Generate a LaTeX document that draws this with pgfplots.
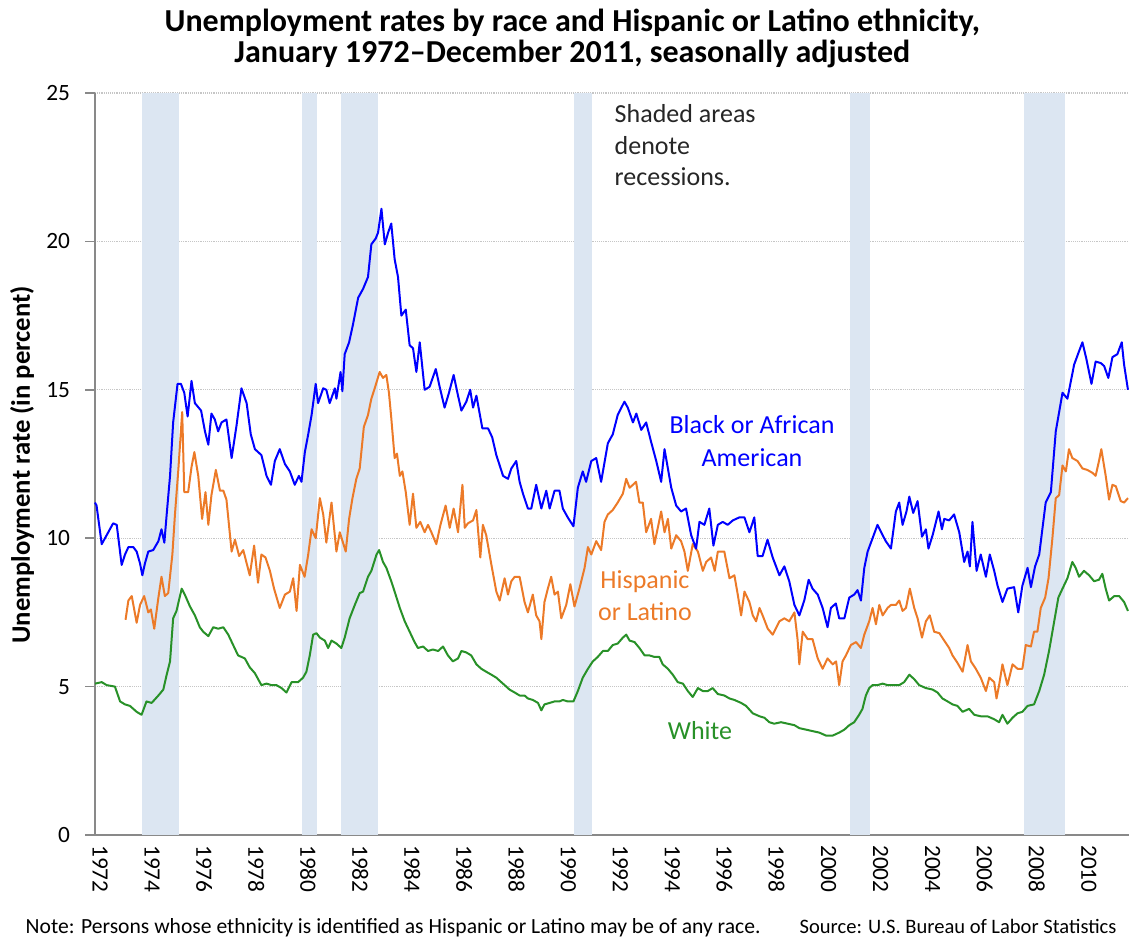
\documentclass[border=0pt]{standalone}
\usepackage{fontspec}
\setmainfont{Carlito}
\usepackage{pgfplots}
\pgfplotsset{compat=1.18}
\definecolor{cblue}{RGB}{0,0,255}
\definecolor{corange}{RGB}{236,122,40}
\definecolor{cgreen}{RGB}{40,145,40}
\definecolor{cshade}{RGB}{220,230,242}
\definecolor{caxis}{RGB}{137,137,137}
\begin{document}
\begin{tikzpicture}
\begin{axis}[
 scale only axis, width=775.5pt, height=556.5pt,
 xmin=1972, xmax=2011.96, ymin=0, ymax=25,
 axis lines*=left, axis line style={caxis, line width=1.1pt, -},
 ytick={0,5,10,15,20,25},
 ymajorgrids, grid style={densely dotted, gray!45, line width=0.8pt},
 tick align=outside, major tick length=7.5pt,
 ytick style={caxis, line width=1.1pt},
 xtick={1972.405,1974.416,1976.427,1978.437,1980.448,1982.459,1984.470,1986.481,1988.491,1990.502,1992.513,1994.524,1996.535,1998.545,2000.556,2002.567,2004.578,2006.589,2008.599,2010.610},
 xticklabels={1972,1974,1976,1978,1980,1982,1984,1986,1988,1990,1992,1994,1996,1998,2000,2002,2004,2006,2008,2010},
 xtick style={draw=none},
 /pgf/number format/assume math mode=true,
 tick label style={font=\fontsize{17.5}{20}\selectfont},
 xticklabel style={rotate=-90, anchor=west, inner sep=0pt, yshift=-4pt},
 yticklabel style={anchor=east, inner sep=0pt, xshift=-11pt},
 clip=false,
]
% recessions
\addplot [fill=cshade, draw=none] coordinates {(1973.83,25) (1975.25,25)} \closedcycle;
\addplot [fill=cshade, draw=none] coordinates {(1980.0,25) (1980.58,25)} \closedcycle;
\addplot [fill=cshade, draw=none] coordinates {(1981.5,25) (1982.92,25)} \closedcycle;
\addplot [fill=cshade, draw=none] coordinates {(1990.5,25) (1991.2,25)} \closedcycle;
\addplot [fill=cshade, draw=none] coordinates {(2001.17,25) (2001.95,25)} \closedcycle;
\addplot [fill=cshade, draw=none] coordinates {(2007.92,25) (2009.5,25)} \closedcycle;
% White
\addplot [cgreen, line width=1.5pt, line join=round] coordinates {
(1972.00,5.1)(1972.26,5.15)(1972.45,5.05)(1972.77,5.0)(1972.97,4.5)(1973.16,4.4)(1973.35,4.35)(1973.61,4.15)(1973.80,4.05)(1973.99,4.5)(1974.19,4.45)(1974.45,4.7)(1974.64,4.9)(1974.77,5.4)(1974.90,5.85)(1975.02,7.3)(1975.15,7.55)(1975.35,8.3)(1975.47,8.1)(1975.67,7.7)(1975.86,7.4)(1976.05,7.0)(1976.18,6.85)(1976.38,6.7)(1976.57,7.0)(1976.76,6.95)(1976.96,7.0)(1977.15,6.75)(1977.34,6.4)(1977.53,6.05)(1977.79,5.95)(1977.98,5.65)(1978.18,5.45)(1978.43,5.05)(1978.63,5.1)(1978.82,5.05)(1979.01,5.05)(1979.21,4.95)(1979.40,4.8)(1979.60,5.15)(1979.85,5.15)(1980.04,5.3)(1980.17,5.5)(1980.30,6.05)(1980.43,6.75)(1980.56,6.8)(1980.69,6.65)(1980.88,6.55)(1981.01,6.3)(1981.14,6.55)(1981.33,6.45)(1981.52,6.3)(1981.65,6.65)(1981.84,7.3)(1982.04,7.75)(1982.23,8.15)(1982.36,8.2)(1982.55,8.7)(1982.68,8.9)(1982.88,9.45)(1982.98,9.6)(1983.13,9.2)(1983.26,9.0)(1983.45,8.55)(1983.58,8.2)(1983.78,7.65)(1983.97,7.2)(1984.16,6.85)(1984.35,6.5)(1984.48,6.3)(1984.68,6.35)(1984.87,6.2)(1985.06,6.25)(1985.26,6.2)(1985.45,6.35)(1985.64,6.05)(1985.83,5.85)(1986.03,5.95)(1986.16,6.2)(1986.35,6.15)(1986.54,6.05)(1986.74,5.75)(1986.93,5.6)(1987.12,5.5)(1987.32,5.4)(1987.51,5.3)(1987.70,5.15)(1987.83,5.05)(1988.02,4.9)(1988.22,4.8)(1988.41,4.7)(1988.60,4.7)(1988.73,4.6)(1988.92,4.55)(1989.12,4.45)(1989.25,4.2)(1989.37,4.4)(1989.57,4.45)(1989.76,4.5)(1989.95,4.5)(1990.08,4.55)(1990.27,4.5)(1990.49,4.5)(1990.66,4.85)(1990.85,5.3)(1991.05,5.6)(1991.24,5.85)(1991.43,6.0)(1991.63,6.2)(1991.82,6.2)(1992.01,6.4)(1992.20,6.45)(1992.40,6.65)(1992.53,6.75)(1992.66,6.55)(1992.85,6.5)(1993.04,6.3)(1993.24,6.05)(1993.43,6.05)(1993.62,6.0)(1993.81,6.0)(1993.94,5.75)(1994.14,5.6)(1994.33,5.4)(1994.52,5.15)(1994.72,5.1)(1994.91,4.85)(1995.10,4.65)(1995.30,4.95)(1995.49,4.85)(1995.68,4.85)(1995.87,4.95)(1996.07,4.75)(1996.32,4.7)(1996.52,4.6)(1996.71,4.55)(1996.97,4.45)(1997.16,4.35)(1997.42,4.1)(1997.68,4.0)(1997.87,3.95)(1998.06,3.8)(1998.25,3.75)(1998.51,3.8)(1998.77,3.75)(1999.03,3.7)(1999.22,3.6)(1999.48,3.55)(1999.73,3.5)(1999.99,3.45)(2000.25,3.35)(2000.51,3.35)(2000.76,3.45)(2000.96,3.55)(2001.15,3.7)(2001.34,3.8)(2001.53,4.05)(2001.66,4.25)(2001.79,4.7)(2001.92,4.95)(2002.05,5.05)(2002.24,5.05)(2002.44,5.1)(2002.63,5.05)(2002.82,5.05)(2003.08,5.05)(2003.27,5.15)(2003.47,5.4)(2003.66,5.25)(2003.85,5.05)(2004.11,4.95)(2004.37,4.9)(2004.56,4.8)(2004.75,4.6)(2004.95,4.5)(2005.14,4.4)(2005.33,4.35)(2005.53,4.15)(2005.78,4.25)(2005.98,4.05)(2006.23,4.0)(2006.49,4.0)(2006.75,3.9)(2006.94,3.8)(2007.07,4.05)(2007.26,3.75)(2007.46,3.95)(2007.65,4.1)(2007.84,4.15)(2008.04,4.35)(2008.29,4.4)(2008.49,4.85)(2008.68,5.4)(2008.87,6.2)(2009.07,7.2)(2009.23,8.0)(2009.39,8.3)(2009.58,8.65)(2009.77,9.2)(2009.90,9.0)(2010.03,8.7)(2010.22,8.9)(2010.42,8.75)(2010.61,8.55)(2010.80,8.6)(2010.93,8.8)(2011.06,8.3)(2011.19,7.9)(2011.39,8.05)(2011.58,8.05)(2011.77,7.85)(2011.92,7.55)
};
% Hispanic
\addplot [corange, line width=1.5pt, line join=round] coordinates {
(1973.18,7.25)(1973.29,7.9)(1973.42,8.05)(1973.61,7.15)(1973.74,7.75)(1973.90,8.05)(1974.06,7.5)(1974.16,7.6)(1974.29,6.95)(1974.45,8.0)(1974.57,8.7)(1974.70,8.05)(1974.83,8.15)(1974.99,9.45)(1975.09,10.8)(1975.22,12.3)(1975.37,14.25)(1975.45,11.55)(1975.60,11.55)(1975.73,12.4)(1975.84,12.9)(1975.99,12.1)(1976.14,10.65)(1976.27,11.55)(1976.38,10.45)(1976.50,11.45)(1976.67,12.3)(1976.83,11.6)(1976.96,11.6)(1977.08,11.3)(1977.28,9.55)(1977.41,9.95)(1977.57,9.4)(1977.73,9.6)(1977.98,8.75)(1978.15,9.75)(1978.30,8.5)(1978.43,9.45)(1978.59,9.35)(1978.76,8.9)(1978.92,8.3)(1979.14,7.65)(1979.34,8.1)(1979.53,8.2)(1979.66,8.65)(1979.79,7.55)(1979.92,9.1)(1980.10,8.7)(1980.24,9.45)(1980.37,10.3)(1980.53,10.0)(1980.69,11.35)(1980.82,10.8)(1980.94,9.85)(1981.14,11.2)(1981.33,9.55)(1981.46,10.2)(1981.69,9.55)(1981.82,10.65)(1981.95,11.35)(1982.10,12.0)(1982.23,12.35)(1982.39,13.75)(1982.55,14.15)(1982.68,14.7)(1982.81,15.05)(1983.00,15.6)(1983.13,15.4)(1983.26,15.5)(1983.36,14.9)(1983.45,14.05)(1983.58,12.7)(1983.67,12.85)(1983.78,12.1)(1983.88,12.25)(1984.01,11.55)(1984.16,10.45)(1984.29,11.5)(1984.42,10.35)(1984.57,10.55)(1984.74,10.2)(1984.87,10.45)(1985.00,10.2)(1985.19,9.8)(1985.35,10.45)(1985.55,11.1)(1985.71,10.35)(1985.86,11.0)(1986.03,10.2)(1986.20,11.8)(1986.29,10.35)(1986.41,10.5)(1986.61,10.6)(1986.74,10.95)(1986.89,9.35)(1986.99,10.45)(1987.12,10.1)(1987.32,9.1)(1987.51,8.2)(1987.64,7.9)(1987.83,8.65)(1987.96,8.1)(1988.09,8.55)(1988.22,8.7)(1988.41,8.7)(1988.60,7.85)(1988.73,7.5)(1988.92,8.1)(1989.05,7.4)(1989.18,7.2)(1989.25,6.6)(1989.37,7.85)(1989.50,8.3)(1989.63,8.7)(1989.76,8.1)(1989.89,8.2)(1990.02,7.3)(1990.21,7.75)(1990.37,8.45)(1990.53,7.7)(1990.72,8.3)(1990.92,9.0)(1991.05,9.7)(1991.18,9.45)(1991.37,9.9)(1991.56,9.6)(1991.69,10.55)(1991.82,10.8)(1992.01,10.95)(1992.20,11.2)(1992.40,11.5)(1992.53,12.0)(1992.66,11.7)(1992.79,11.8)(1992.91,11.9)(1993.04,11.2)(1993.17,11.2)(1993.30,10.2)(1993.49,10.65)(1993.62,9.8)(1993.75,10.35)(1993.88,10.9)(1994.01,10.2)(1994.14,10.65)(1994.27,9.65)(1994.46,10.1)(1994.65,9.9)(1994.78,9.55)(1994.91,8.9)(1995.10,9.8)(1995.30,9.55)(1995.49,8.9)(1995.62,9.2)(1995.81,9.35)(1995.95,8.9)(1996.07,9.55)(1996.32,9.55)(1996.52,8.65)(1996.71,8.75)(1996.84,8.1)(1996.97,7.4)(1997.10,8.2)(1997.29,7.85)(1997.42,7.4)(1997.55,7.2)(1997.68,7.65)(1997.80,7.4)(1998.00,6.95)(1998.19,6.75)(1998.45,7.2)(1998.64,7.3)(1998.83,7.2)(1999.03,7.5)(1999.15,6.6)(1999.22,5.75)(1999.35,6.85)(1999.54,6.6)(1999.73,6.6)(1999.93,5.95)(2000.12,5.6)(2000.31,5.95)(2000.51,5.75)(2000.64,5.85)(2000.76,5.05)(2000.89,5.85)(2001.02,6.05)(2001.21,6.4)(2001.41,6.5)(2001.60,6.3)(2001.73,6.75)(2001.92,7.2)(2002.05,7.65)(2002.18,7.1)(2002.31,7.75)(2002.44,7.4)(2002.63,7.65)(2002.76,7.75)(2002.95,7.75)(2003.08,7.9)(2003.21,7.55)(2003.34,7.65)(2003.49,8.3)(2003.66,7.65)(2003.79,7.3)(2003.96,6.65)(2004.11,7.2)(2004.26,7.4)(2004.43,6.85)(2004.63,6.8)(2004.82,6.55)(2005.01,6.3)(2005.14,6.05)(2005.33,5.8)(2005.53,5.5)(2005.72,6.4)(2005.85,5.85)(2006.04,5.6)(2006.23,5.3)(2006.43,4.85)(2006.56,5.3)(2006.75,5.15)(2006.84,4.6)(2006.94,5.05)(2007.07,5.75)(2007.26,5.05)(2007.46,5.75)(2007.65,5.6)(2007.84,5.6)(2007.97,6.4)(2008.17,6.35)(2008.29,6.85)(2008.42,6.85)(2008.55,7.65)(2008.72,8.0)(2008.85,8.65)(2009.00,10.0)(2009.13,11.35)(2009.26,11.45)(2009.39,12.45)(2009.52,12.25)(2009.64,13.0)(2009.77,12.7)(2009.97,12.6)(2010.16,12.35)(2010.35,12.3)(2010.55,12.2)(2010.67,12.1)(2010.80,12.6)(2010.89,13.0)(2011.06,12.1)(2011.19,11.3)(2011.32,11.8)(2011.45,11.75)(2011.64,11.25)(2011.77,11.2)(2011.92,11.35)
};
% Black
\addplot [cblue, line width=1.5pt, line join=round] coordinates {
(1972.00,11.2)(1972.06,11.1)(1972.26,9.8)(1972.45,10.1)(1972.70,10.5)(1972.84,10.45)(1973.03,9.1)(1973.16,9.45)(1973.29,9.7)(1973.48,9.7)(1973.61,9.55)(1973.74,9.15)(1973.83,8.75)(1973.93,9.15)(1974.06,9.55)(1974.25,9.6)(1974.45,9.9)(1974.57,10.3)(1974.68,9.85)(1974.77,10.8)(1974.90,12.1)(1975.02,13.9)(1975.19,15.2)(1975.32,15.2)(1975.45,14.9)(1975.58,14.1)(1975.73,15.3)(1975.86,14.55)(1976.10,14.3)(1976.25,13.6)(1976.38,13.15)(1976.50,14.2)(1976.63,14.0)(1976.76,13.6)(1976.89,13.9)(1977.08,14.0)(1977.28,12.7)(1977.47,13.8)(1977.66,15.05)(1977.86,14.55)(1978.02,13.5)(1978.18,13.0)(1978.43,12.8)(1978.63,12.1)(1978.80,11.8)(1978.95,12.6)(1979.14,13.0)(1979.34,12.5)(1979.53,12.25)(1979.72,11.8)(1979.88,12.1)(1979.98,11.9)(1980.11,12.9)(1980.24,13.5)(1980.37,14.15)(1980.53,15.2)(1980.62,14.55)(1980.82,15.05)(1980.94,15.0)(1981.07,14.55)(1981.27,15.05)(1981.33,14.7)(1981.49,15.6)(1981.56,14.95)(1981.65,16.2)(1981.82,16.6)(1981.97,17.2)(1982.17,18.1)(1982.36,18.4)(1982.55,18.8)(1982.68,19.9)(1982.85,20.1)(1982.94,20.3)(1983.07,21.1)(1983.20,19.9)(1983.33,20.3)(1983.45,20.6)(1983.58,19.4)(1983.71,18.8)(1983.84,17.5)(1984.01,17.7)(1984.16,16.5)(1984.29,16.4)(1984.42,15.6)(1984.55,16.6)(1984.74,15.0)(1984.93,15.1)(1985.17,15.7)(1985.32,15.1)(1985.51,14.4)(1985.68,14.9)(1985.86,15.5)(1986.03,14.8)(1986.16,14.3)(1986.35,14.6)(1986.50,15.0)(1986.61,14.4)(1986.74,14.8)(1986.97,13.7)(1987.19,13.7)(1987.35,13.4)(1987.51,12.8)(1987.77,12.1)(1987.96,12.0)(1988.09,12.35)(1988.28,12.6)(1988.41,11.9)(1988.54,11.5)(1988.73,11.0)(1988.86,11.0)(1989.05,11.8)(1989.25,11.0)(1989.44,11.6)(1989.57,11.0)(1989.76,11.6)(1989.95,11.6)(1990.08,11.0)(1990.27,10.7)(1990.49,10.4)(1990.66,11.7)(1990.85,12.25)(1990.98,11.9)(1991.18,12.6)(1991.37,12.7)(1991.56,11.9)(1991.82,13.2)(1992.01,13.5)(1992.20,14.15)(1992.46,14.6)(1992.59,14.4)(1992.79,13.9)(1992.92,14.2)(1993.11,13.65)(1993.30,13.9)(1993.49,13.25)(1993.69,12.6)(1993.88,11.9)(1994.01,13.0)(1994.14,12.35)(1994.27,11.7)(1994.46,11.1)(1994.65,10.9)(1994.84,11.0)(1995.04,10.1)(1995.23,9.65)(1995.36,10.55)(1995.55,10.45)(1995.74,11.0)(1995.90,9.75)(1996.07,10.45)(1996.26,10.55)(1996.45,10.45)(1996.65,10.6)(1996.90,10.7)(1997.10,10.7)(1997.29,10.2)(1997.48,10.7)(1997.61,9.4)(1997.80,9.4)(1997.99,9.95)(1998.19,9.35)(1998.45,8.75)(1998.64,9.05)(1998.83,8.55)(1999.03,7.75)(1999.22,7.4)(1999.41,7.9)(1999.58,8.6)(1999.73,8.3)(1999.93,8.1)(2000.12,7.65)(2000.31,7.0)(2000.44,7.65)(2000.63,7.8)(2000.76,7.3)(2000.96,7.3)(2001.15,8.0)(2001.34,8.1)(2001.47,8.25)(2001.60,7.9)(2001.73,9.0)(2001.86,9.55)(2002.05,10.0)(2002.24,10.45)(2002.44,10.1)(2002.56,9.9)(2002.76,9.65)(2002.95,10.9)(2003.08,11.2)(2003.21,10.45)(2003.36,10.9)(2003.47,11.4)(2003.62,10.85)(2003.79,11.25)(2003.96,10.05)(2004.11,10.3)(2004.21,9.65)(2004.37,10.1)(2004.60,10.9)(2004.73,10.3)(2004.82,10.65)(2005.01,10.6)(2005.20,10.8)(2005.40,10.2)(2005.59,9.2)(2005.72,9.55)(2005.81,9.05)(2005.91,10.55)(2006.07,8.9)(2006.23,9.45)(2006.43,8.7)(2006.58,9.45)(2006.75,8.9)(2006.88,8.4)(2007.07,7.85)(2007.26,8.3)(2007.52,8.35)(2007.68,7.5)(2007.84,8.4)(2008.04,9.0)(2008.17,8.35)(2008.33,9.05)(2008.49,9.45)(2008.74,11.2)(2008.94,11.55)(2009.13,13.6)(2009.39,14.9)(2009.58,14.7)(2009.84,15.85)(2010.03,16.3)(2010.16,16.6)(2010.31,16.05)(2010.51,15.2)(2010.67,15.95)(2010.87,15.9)(2011.00,15.8)(2011.16,15.4)(2011.32,16.1)(2011.51,16.2)(2011.68,16.6)(2011.77,15.85)(2011.92,15.0)
};
\coordinate (bl) at (rel axis cs:0,0);
\coordinate (tr) at (rel axis cs:1,1);
\end{axis}
% title
\node[anchor=base, font=\fontsize{24}{28}\selectfont\bfseries] at ([shift={(358pt,602.25pt)}]bl) {Unemployment rates by race and Hispanic or Latino ethnicity,};
\node[anchor=base, font=\fontsize{24}{28}\selectfont\bfseries] at ([shift={(358pt,579pt)}]bl) {January 1972–December 2011, seasonally adjusted};
% y label
\node[anchor=base, rotate=90, font=\fontsize{20}{23}\selectfont\bfseries] at ([shift={(-48.75pt,277.5pt)}]bl) {Unemployment rate (in percent)};
% annotations
\node[anchor=base west, font=\fontsize{19.5}{23}\selectfont, text=black!85] at ([shift={(386.25pt,534pt)}]bl) {Shaded areas};
\node[anchor=base west, font=\fontsize{19.5}{23}\selectfont, text=black!85] at ([shift={(386.25pt,510pt)}]bl) {denote};
\node[anchor=base west, font=\fontsize{19.5}{23}\selectfont, text=black!85] at ([shift={(386.25pt,486.75pt)}]bl) {recessions.};
\node[anchor=base, font=\fontsize{19.5}{23}\selectfont, text=cblue] at ([shift={(492.75pt,300.75pt)}]bl) {Black or African};
\node[anchor=base, font=\fontsize{19.5}{23}\selectfont, text=cblue] at ([shift={(492.75pt,276pt)}]bl) {American};
\node[anchor=base, font=\fontsize{19.5}{23}\selectfont, text=corange] at ([shift={(412.5pt,184.5pt)}]bl) {Hispanic};
\node[anchor=base, font=\fontsize{19.5}{23}\selectfont, text=corange] at ([shift={(412.5pt,160.5pt)}]bl) {or Latino};
\node[anchor=base, font=\fontsize{19.5}{23}\selectfont, text=cgreen] at ([shift={(453.75pt,71.25pt)}]bl) {White};
% notes
\node[anchor=base west, font=\fontsize{16.2}{19}\selectfont] at ([shift={(-55.5pt,-74.25pt)}]bl) {Note: Persons whose ethnicity is identified as Hispanic or Latino may be of any race.};
\node[anchor=base west, font=\fontsize{15.4}{18}\selectfont] at ([shift={(525pt,-74.25pt)}]bl) {Source: U.S. Bureau of Labor Statistics};
\pgfresetboundingbox
\path ([shift={(-71.25pt,-80.25pt)}]bl) rectangle ([shift={(0pt,69.75pt)}]tr);
\end{tikzpicture}
\end{document}
